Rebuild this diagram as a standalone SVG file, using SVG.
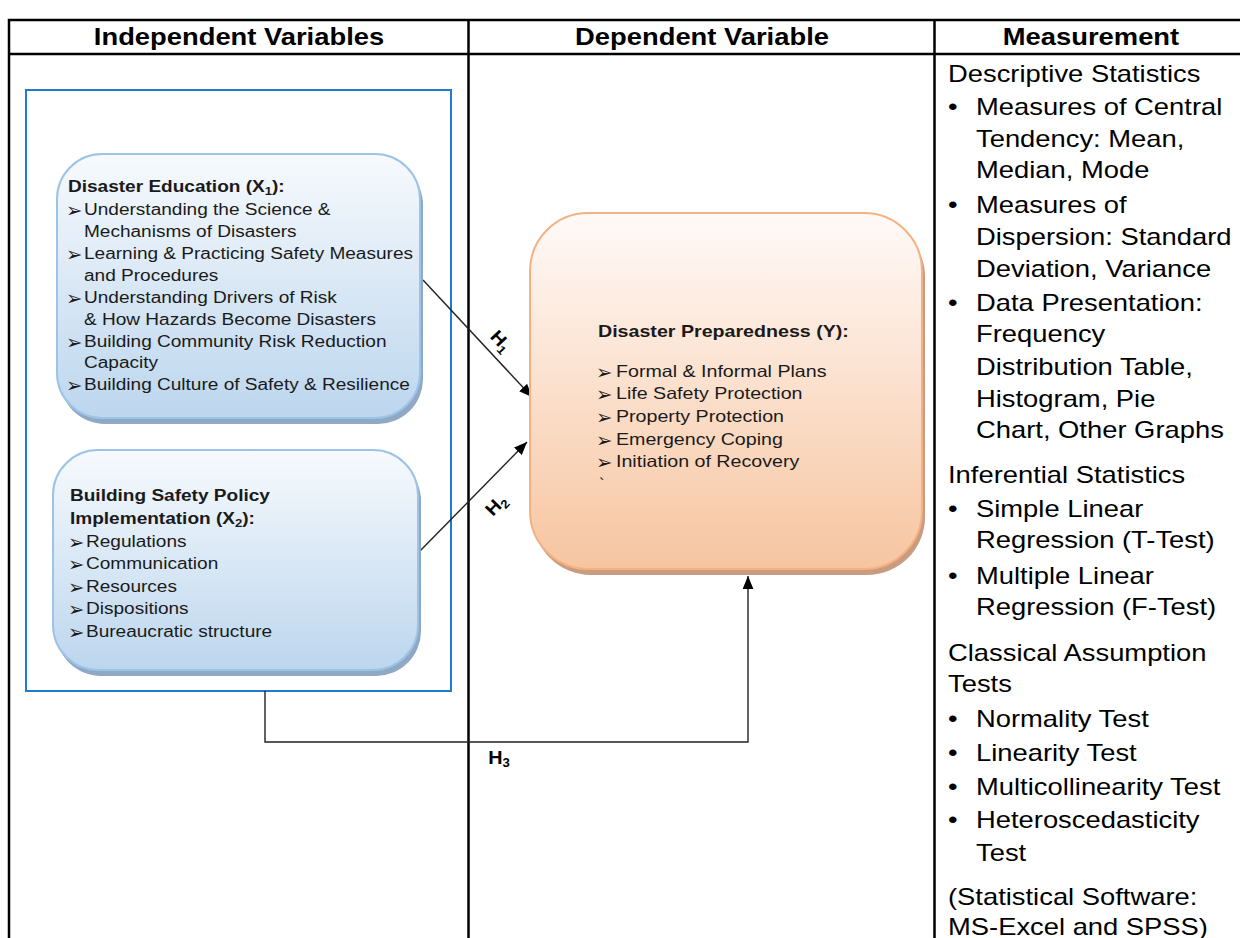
<svg xmlns="http://www.w3.org/2000/svg" width="1240" height="938" viewBox="0 0 1240 938">
<style>
text{font-family:"Liberation Sans",Arial,sans-serif;fill:#000}
.hdr{font-size:23px;font-weight:bold;text-anchor:middle}
.m{font-size:23px}
.bx{font-size:16px;fill:#1a1a1a}
.bxb{font-size:16px;font-weight:bold;fill:#1a1a1a}
.yb{font-size:16.5px;fill:#1a1a1a}
.ybb{font-size:16.5px;font-weight:bold;fill:#1a1a1a}
.bul{font-family:"DejaVu Sans",sans-serif;font-size:19.5px;fill:#1a1a1a}
.hl{font-size:18px;font-weight:bold;text-anchor:middle}
.tbl{fill:none;stroke:#000;stroke-width:2.5}
.conn{fill:none;stroke:#222;stroke-width:1.4}
</style>
<defs>
<linearGradient id="gBlue" x1="0" y1="0" x2="0" y2="1">
<stop offset="0" stop-color="#f7fafd"/>
<stop offset="1" stop-color="#bcd6ee"/>
</linearGradient>
<linearGradient id="gPeach" x1="0" y1="0" x2="0" y2="1">
<stop offset="0" stop-color="#fffaf8"/>
<stop offset="1" stop-color="#f7c5a0"/>
</linearGradient>
<marker id="arr" viewBox="0 0 12 10" refX="12" refY="5" markerWidth="13" markerHeight="11" orient="auto" markerUnits="userSpaceOnUse">
<path d="M0,0 L12,5 L0,10 z" fill="#000"/>
</marker>
</defs>
<rect width="1240" height="938" fill="#fff"/>

<g id="table">
<rect class="tbl" x="9" y="20" width="1240" height="930"/>
<line class="tbl" x1="9" y1="54" x2="1240" y2="54"/>
<line class="tbl" x1="468.5" y1="20" x2="468.5" y2="938"/>
<line class="tbl" x1="934.5" y1="20" x2="934.5" y2="938"/>
<text class="hdr" transform="matrix(1.19,0,0,1,239,45)">Independent Variables</text>
<text class="hdr" transform="matrix(1.19,0,0,1,702,45)">Dependent Variable</text>
<text class="hdr" transform="matrix(1.19,0,0,1,1091,45)">Measurement</text>
</g>

<g id="independent-frame">
<rect x="26" y="90" width="425" height="601" fill="none" stroke="#1f7ad0" stroke-width="2"/>
</g>

<g id="connectors">
<line class="conn" x1="423" y1="280" x2="532" y2="397" marker-end="url(#arr)"/>
<line class="conn" x1="418" y1="553" x2="527" y2="442" marker-end="url(#arr)"/>
<polyline class="conn" points="265,691 265,742 748,742 748,576" marker-end="url(#arr)"/>
<text class="hl" transform="translate(501,341) rotate(47) scale(1.1,1)" y="6">H<tspan font-size="12" dy="4">1</tspan></text>
<text class="hl" transform="translate(496,505) rotate(-46) scale(1.1,1)" y="6">H<tspan font-size="12" dy="4">2</tspan></text>
<text class="hl" transform="matrix(1.1,0,0,1,499,764)">H<tspan font-size="12" dy="3">3</tspan></text>
</g>

<g id="disaster-education">
<rect x="60" y="160" width="363" height="264" rx="45" fill="#8fa8c4"/>
<rect x="57" y="154" width="363" height="264" rx="45" fill="url(#gBlue)" stroke="#9dc3e6" stroke-width="2"/>
<text class="bxb" transform="matrix(1.19,0,0,1,68,192)">Disaster Education (X<tspan font-size="11" dy="3">1</tspan><tspan dy="-3">):</tspan></text>
<text class="bul" x="66" y="217">➢</text>
<text class="bx" transform="matrix(1.19,0,0,1,84,215)">Understanding the Science &amp;</text>
<text class="bx" transform="matrix(1.19,0,0,1,84,237)">Mechanisms of Disasters</text>
<text class="bul" x="66" y="261">➢</text>
<text class="bx" transform="matrix(1.19,0,0,1,84,259)">Learning &amp; Practicing Safety Measures</text>
<text class="bx" transform="matrix(1.19,0,0,1,84,281)">and Procedures</text>
<text class="bul" x="66" y="305">➢</text>
<text class="bx" transform="matrix(1.19,0,0,1,84,303)">Understanding Drivers of Risk</text>
<text class="bx" transform="matrix(1.19,0,0,1,84,325)">&amp; How Hazards Become Disasters</text>
<text class="bul" x="66" y="349">➢</text>
<text class="bx" transform="matrix(1.19,0,0,1,84,347)">Building Community Risk Reduction</text>
<text class="bx" transform="matrix(1.19,0,0,1,84,368)">Capacity</text>
<text class="bul" x="66" y="392">➢</text>
<text class="bx" transform="matrix(1.19,0,0,1,84,390)">Building Culture of Safety &amp; Resilience</text>
</g>

<g id="building-safety-policy">
<rect x="56" y="456" width="365" height="220" rx="45" fill="#8fa8c4"/>
<rect x="53" y="450" width="365" height="220" rx="45" fill="url(#gBlue)" stroke="#9dc3e6" stroke-width="2"/>
<text class="bxb" transform="matrix(1.19,0,0,1,70,501)">Building Safety Policy</text>
<text class="bxb" transform="matrix(1.19,0,0,1,70,524)">Implementation (X<tspan font-size="11" dy="3">2</tspan><tspan dy="-3">):</tspan></text>
<text class="bul" x="68" y="549">➢</text>
<text class="bx" transform="matrix(1.19,0,0,1,86,547)">Regulations</text>
<text class="bul" x="68" y="571">➢</text>
<text class="bx" transform="matrix(1.19,0,0,1,86,569)">Communication</text>
<text class="bul" x="68" y="594">➢</text>
<text class="bx" transform="matrix(1.19,0,0,1,86,592)">Resources</text>
<text class="bul" x="68" y="616">➢</text>
<text class="bx" transform="matrix(1.19,0,0,1,86,614)">Dispositions</text>
<text class="bul" x="68" y="639">➢</text>
<text class="bx" transform="matrix(1.19,0,0,1,86,637)">Bureaucratic structure</text>
</g>

<g id="disaster-preparedness">
<rect x="533" y="219" width="392" height="356" rx="58" fill="#c99c80"/>
<rect x="530" y="213" width="392" height="356" rx="58" fill="url(#gPeach)" stroke="#f4b183" stroke-width="2"/>
<text class="ybb" transform="matrix(1.19,0,0,1,598,337)">Disaster Preparedness (Y):</text>
<text class="bul" x="596" y="379">➢</text>
<text class="yb" transform="matrix(1.19,0,0,1,616,377)">Formal &amp; Informal Plans</text>
<text class="bul" x="596" y="401">➢</text>
<text class="yb" transform="matrix(1.19,0,0,1,616,399)">Life Safety Protection</text>
<text class="bul" x="596" y="424">➢</text>
<text class="yb" transform="matrix(1.19,0,0,1,616,422)">Property Protection</text>
<text class="bul" x="596" y="447">➢</text>
<text class="yb" transform="matrix(1.19,0,0,1,616,445)">Emergency Coping</text>
<text class="bul" x="596" y="469">➢</text>
<text class="yb" transform="matrix(1.19,0,0,1,616,467)">Initiation of Recovery</text>
<text class="yb" x="599" y="490" font-size="12">`</text>
</g>

<g id="measurement">
<text class="m" transform="matrix(1.19,0,0,1,948,82)">Descriptive Statistics</text>
<text class="m" transform="matrix(1.19,0,0,1,948,115)">•</text>
<text class="m" transform="matrix(1.19,0,0,1,976,115)">Measures of Central</text>
<text class="m" transform="matrix(1.19,0,0,1,976,147)">Tendency: Mean,</text>
<text class="m" transform="matrix(1.19,0,0,1,976,178)">Median, Mode</text>
<text class="m" transform="matrix(1.19,0,0,1,948,213)">•</text>
<text class="m" transform="matrix(1.19,0,0,1,976,213)">Measures of</text>
<text class="m" transform="matrix(1.19,0,0,1,976,245)">Dispersion: Standard</text>
<text class="m" transform="matrix(1.19,0,0,1,976,277)">Deviation, Variance</text>
<text class="m" transform="matrix(1.19,0,0,1,948,311)">•</text>
<text class="m" transform="matrix(1.19,0,0,1,976,311)">Data Presentation:</text>
<text class="m" transform="matrix(1.19,0,0,1,976,342)">Frequency</text>
<text class="m" transform="matrix(1.19,0,0,1,976,375)">Distribution Table,</text>
<text class="m" transform="matrix(1.19,0,0,1,976,407)">Histogram, Pie</text>
<text class="m" transform="matrix(1.19,0,0,1,976,438)">Chart, Other Graphs</text>
<text class="m" transform="matrix(1.19,0,0,1,948,483)">Inferential Statistics</text>
<text class="m" transform="matrix(1.19,0,0,1,948,517)">•</text>
<text class="m" transform="matrix(1.19,0,0,1,976,517)">Simple Linear</text>
<text class="m" transform="matrix(1.19,0,0,1,976,548)">Regression (T-Test)</text>
<text class="m" transform="matrix(1.19,0,0,1,948,584)">•</text>
<text class="m" transform="matrix(1.19,0,0,1,976,584)">Multiple Linear</text>
<text class="m" transform="matrix(1.19,0,0,1,976,615)">Regression (F-Test)</text>
<text class="m" transform="matrix(1.19,0,0,1,948,661)">Classical Assumption</text>
<text class="m" transform="matrix(1.19,0,0,1,948,692)">Tests</text>
<text class="m" transform="matrix(1.19,0,0,1,948,727)">•</text>
<text class="m" transform="matrix(1.19,0,0,1,976,727)">Normality Test</text>
<text class="m" transform="matrix(1.19,0,0,1,948,761)">•</text>
<text class="m" transform="matrix(1.19,0,0,1,976,761)">Linearity Test</text>
<text class="m" transform="matrix(1.19,0,0,1,948,795)">•</text>
<text class="m" transform="matrix(1.19,0,0,1,976,795)">Multicollinearity Test</text>
<text class="m" transform="matrix(1.19,0,0,1,948,828)">•</text>
<text class="m" transform="matrix(1.19,0,0,1,976,828)">Heteroscedasticity</text>
<text class="m" transform="matrix(1.19,0,0,1,976,861)">Test</text>
<text class="m" transform="matrix(1.19,0,0,1,948,905)">(Statistical Software:</text>
<text class="m" transform="matrix(1.19,0,0,1,948,935)">MS-Excel and SPSS)</text>
</g>
</svg>
